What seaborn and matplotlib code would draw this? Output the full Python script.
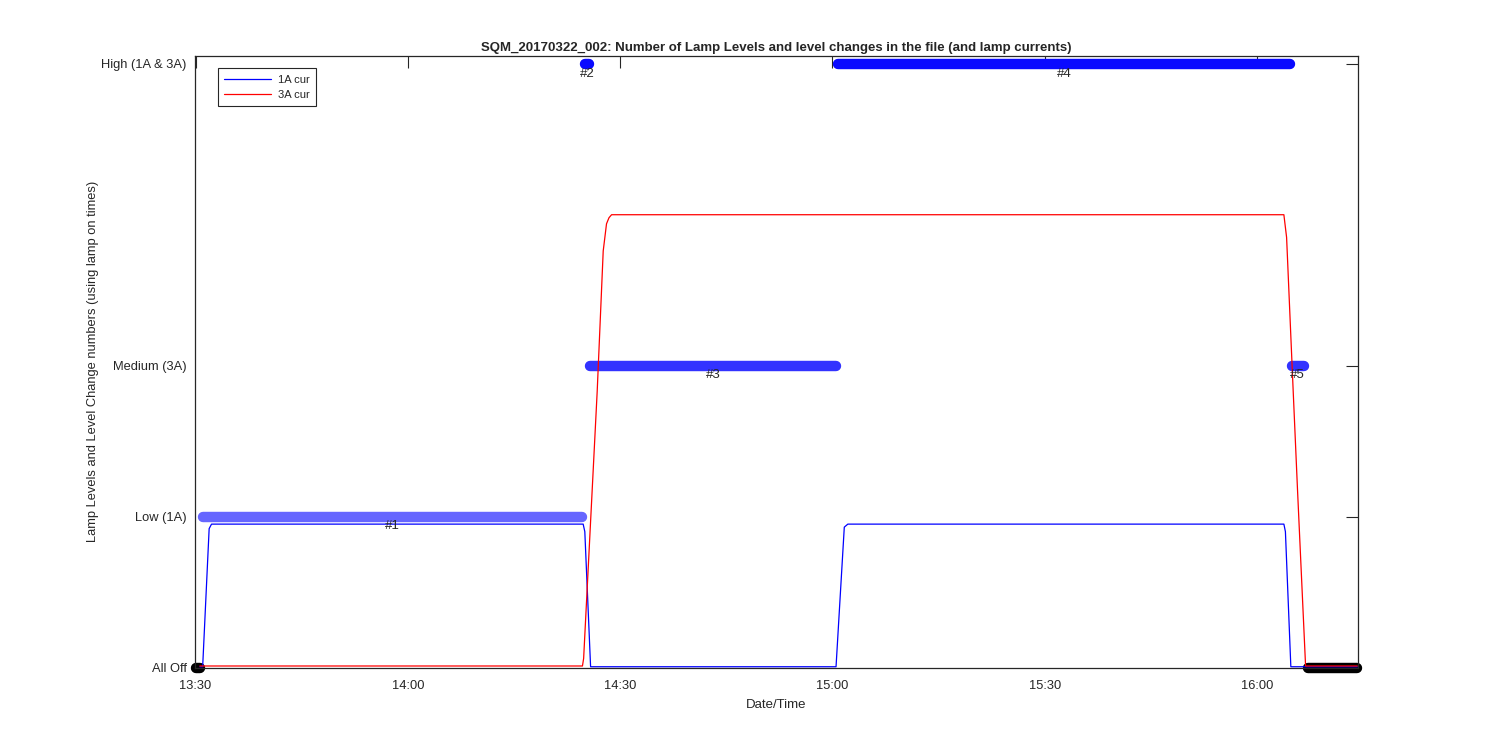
import pandas as pd
import matplotlib
matplotlib.use('Agg')
import matplotlib.pyplot as plt
import matplotlib.dates as mdates
import seaborn as sns

day = '2017-03-22 '

# Lamp currents (time, value in A)
t_1a = ['13:30:36', '13:31:00', '13:31:55', '13:32:15', '14:24:46', '14:25:00', '14:25:49',
        '15:00:30', '15:01:40', '15:02:10', '16:03:47', '16:04:00', '16:04:46', '16:14:10']
v_1a = [0.005, 0.005, 0.92, 0.95, 0.95, 0.90, 0.005,
        0.005, 0.93, 0.95, 0.95, 0.90, 0.005, 0.005]

t_3a = ['13:30:36', '14:24:40', '14:24:50', '14:26:45', '14:27:36', '14:28:04', '14:28:25', '14:28:47',
        '16:03:47', '16:04:10', '16:05:06', '16:05:43', '16:06:51', '16:14:10']
v_3a = [0.01, 0.01, 0.06, 1.83, 2.76, 2.94, 2.98, 3.0,
        3.0, 2.85, 1.83, 1.17, 0.01, 0.01]

# Lamp level segments (level changes)
seg_start = ['13:30:00', '13:31:02', '14:25:00', '14:25:48', '15:00:48', '16:04:54', '16:07:12']
seg_end = ['13:30:36', '14:24:36', '14:25:36', '15:00:30', '16:04:36', '16:06:36', '16:14:10']
seg_level = [0, 1, 4, 2, 4, 2, 0]
seg_label = ['', '#1', '#2', '#3', '#4', '#5', '']
level_colors = {0: '#000000', 1: '#6666ff', 2: '#3333ff', 4: '#0a0aff'}

level_ticks = [0, 1, 2, 4]
level_names = ['All Off', 'Low (1A)', 'Medium (3A)', 'High (1A & 3A)']

sns.set_style('white')
plt.rcParams['font.family'] = ['Liberation Sans', 'DejaVu Sans']
plt.rcParams['font.size'] = 9

fig = plt.figure(figsize=(15, 7.5), dpi=100)
ax = fig.add_axes([0.13, 0.11, 0.7753, 0.815])

# Level segments
for s, e, lvl, lab in zip(seg_start, seg_end, seg_level, seg_label):
    seg = pd.DataFrame({'t': pd.to_datetime([day + s, day + e]), 'y': [lvl, lvl]})
    sns.lineplot(data=seg, x='t', y='y', ax=ax, color=level_colors[lvl],
                 linewidth=7.5, solid_capstyle='round', legend=False, clip_on=False)
    if lab:
        mid = seg['t'].iloc[0] + (seg['t'].iloc[1] - seg['t'].iloc[0]) / 2
        ax.text(mid, lvl - 0.025, lab, ha='center', va='top', fontsize=9.5)

# Currents
cur1 = pd.DataFrame({'t': pd.to_datetime([day + t for t in t_1a]), 'y': v_1a})
cur3 = pd.DataFrame({'t': pd.to_datetime([day + t for t in t_3a]), 'y': v_3a})
sns.lineplot(data=cur1, x='t', y='y', ax=ax, color='#0000ff', linewidth=0.9, label='1A cur')
sns.lineplot(data=cur3, x='t', y='y', ax=ax, color='#ff0000', linewidth=0.9, label='3A cur')

ax.set_xlim(pd.Timestamp(day + '13:29:55'), pd.Timestamp(day + '16:14:15'))
ax.set_ylim(0, 4.05)
ax.set_yticks(level_ticks)
ax.set_yticklabels(level_names)
ax.xaxis.set_major_locator(mdates.MinuteLocator(byminute=[0, 30]))
ax.xaxis.set_major_formatter(mdates.DateFormatter('%H:%M'))
ax.tick_params(direction='in', length=8.5, width=0.8, top=True, right=True,
               labelsize=9.3, colors='#262626', labelcolor='#262626')
ax.tick_params(axis='x', pad=9)
ax.tick_params(axis='y', pad=6)
for sp in ax.spines.values():
    sp.set_color('#262626')
    sp.set_linewidth(0.9)

ax.set_title('SQM_20170322_002: Number of Lamp Levels and level changes in the file (and lamp currents)',
             fontsize=9.5, fontweight='bold', pad=4)
ax.set_xlabel('Date/Time', fontsize=9.5, labelpad=5)
ax.set_ylabel('Lamp Levels and Level Change numbers (using lamp on times)', fontsize=9.3, labelpad=2)

leg = ax.legend(loc='upper left', bbox_to_anchor=(0.02, 0.98), fontsize=8, frameon=True,
                fancybox=False, framealpha=1, edgecolor='#262626', handlelength=4.2,
                borderpad=0.55, labelspacing=0.45, handletextpad=0.6, borderaxespad=0)
leg.get_frame().set_linewidth(0.8)

plt.savefig('out.png', dpi=100)
